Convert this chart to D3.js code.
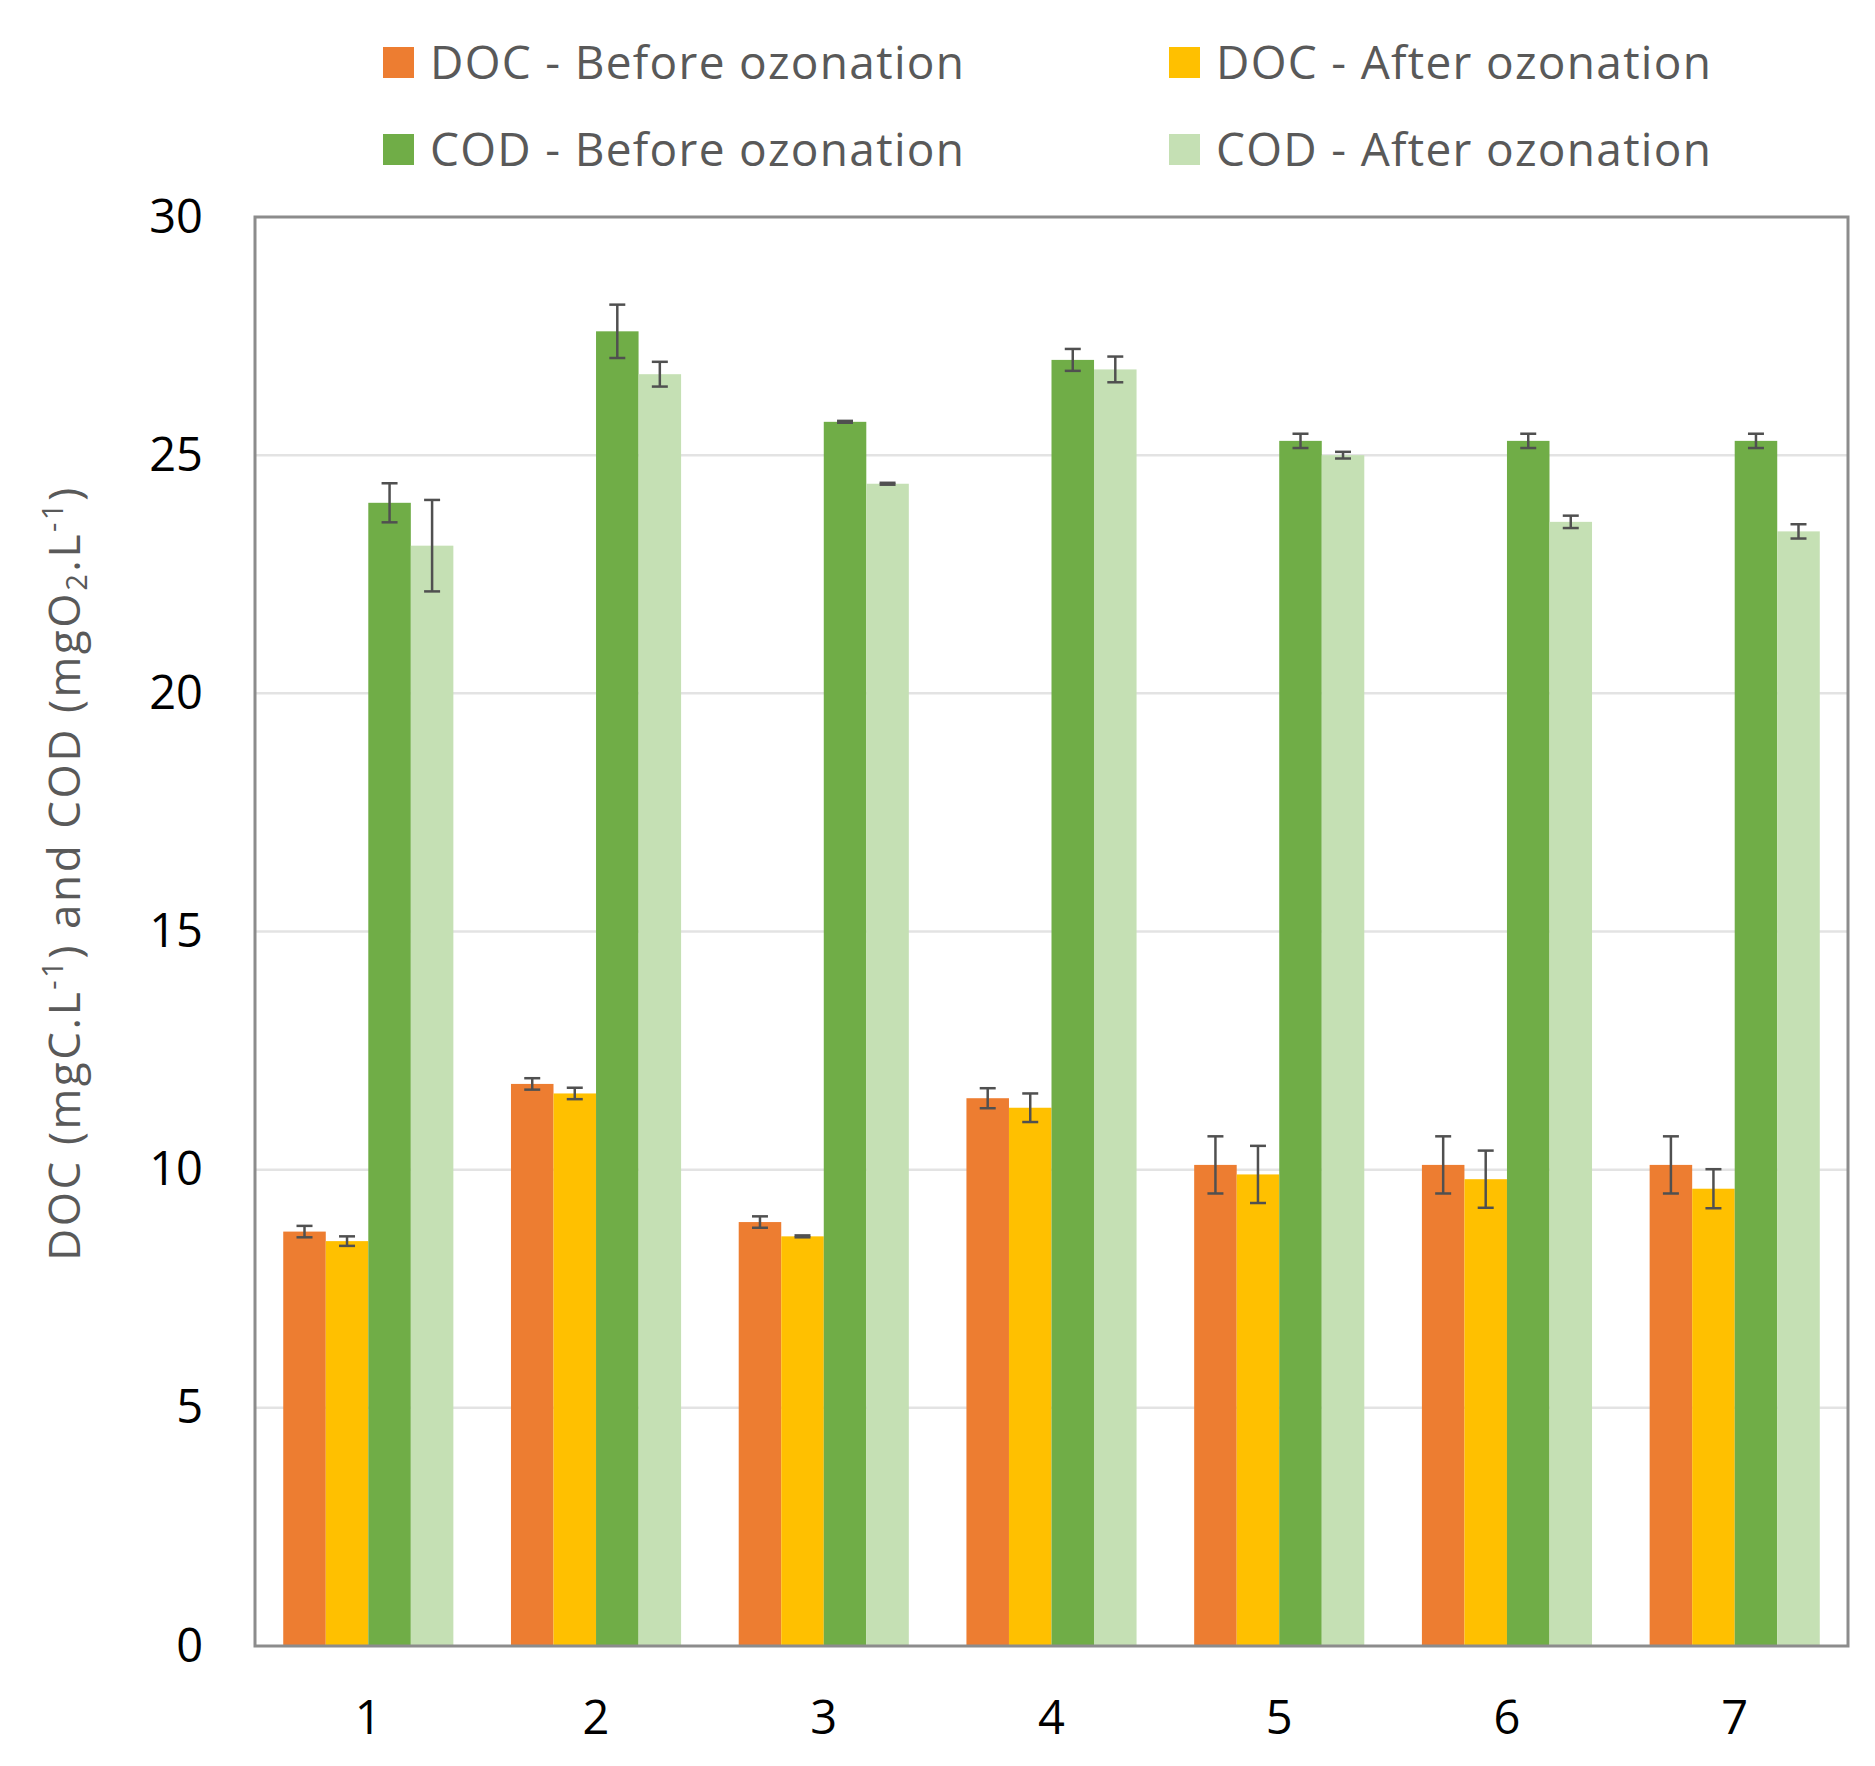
<!DOCTYPE html>
<html>
<head>
<meta charset="utf-8">
<script src="https://cdn.jsdelivr.net/npm/d3@7"></script>
<style>
  body { margin: 0; background: #fff; }
  svg { display: block; font-family: "Open Sans", sans-serif; }
</style>
</head>
<body>
<div id="chart"></div>
<script>
// values
const categories = ['1', '2', '3', '4', '5', '6', '7']
const docBefore    = [8.7, 11.8, 8.9, 11.5, 10.1, 10.1, 10.1]
const docBeforeErr = [0.12, 0.12, 0.12, 0.21, 0.6, 0.6, 0.6]
const docAfter     = [8.5, 11.6, 8.6, 11.3, 9.9, 9.8, 9.6]
const docAfterErr  = [0.1, 0.12, 0.02, 0.3, 0.6, 0.6, 0.41]
const codBefore    = [24.0, 27.6, 25.7, 27.0, 25.3, 25.3, 25.3]
const codBeforeErr = [0.41, 0.56, 0.02, 0.23, 0.15, 0.15, 0.15]
const codAfter     = [23.1, 26.7, 24.4, 26.8, 25.0, 23.6, 23.4]
const codAfterErr  = [0.96, 0.26, 0.02, 0.27, 0.07, 0.13, 0.15]
const seriesNames = ['DOC - Before ozonation', 'DOC - After ozonation', 'COD - Before ozonation', 'COD - After ozonation']
const seriesColors = ['#ED7D31', '#FFC000', '#70AD47', '#C5E0B4']
const yTicks = [0, 5, 10, 15, 20, 25, 30]

const series = [
    { name: seriesNames[0], values: docBefore, errs: docBeforeErr },
    { name: seriesNames[1], values: docAfter, errs: docAfterErr },
    { name: seriesNames[2], values: codBefore, errs: codBeforeErr },
    { name: seriesNames[3], values: codAfter, errs: codAfterErr },
]

const W = 1875, H = 1766
const margin = { top: 217, left: 255, right: 27, bottom: 120 }
const width = W - margin.left - margin.right
const height = H - margin.top - margin.bottom

const svg = d3.select('#chart').append('svg')
    .attr('width', W)
    .attr('height', H)

const g = svg.append('g').attr('transform', `translate(${margin.left},${margin.top})`)

const x0 = d3.scaleBand()
    .domain(categories)
    .range([0, width])
    .paddingInner(0.253)
    .paddingOuter(0.124)

const x1 = d3.scaleBand()
    .domain(seriesNames)
    .range([0, x0.bandwidth()])

const y = d3.scaleLinear()
    .domain([0, 30])
    .range([height, 0])

const color = d3.scaleOrdinal().domain(seriesNames).range(seriesColors)

// gridlines
g.append('g')
    .selectAll('line')
    .data(yTicks.filter(d => d > 0 && d < 30))
    .join('line')
    .attr('x1', 0).attr('x2', width)
    .attr('y1', d => y(d)).attr('y2', d => y(d))
    .attr('stroke', '#e3e3e3')
    .attr('stroke-width', 2.5)

// bars
const groups = g.append('g')
    .selectAll('g')
    .data(categories)
    .join('g')
    .attr('transform', d => `translate(${x0(d)},0)`)

groups.selectAll('rect')
    .data((c, i) => series.map(s => ({ name: s.name, v: s.values[i], e: s.errs[i] })))
    .join('rect')
    .attr('x', d => x1(d.name))
    .attr('width', x1.bandwidth())
    .attr('y', d => y(d.v))
    .attr('height', d => y(0) - y(d.v))
    .attr('fill', d => color(d.name))

// error bars
const eb = groups.selectAll('g.err')
    .data((c, i) => series.map(s => ({ name: s.name, v: s.values[i], e: s.errs[i] })))
    .join('g')
    .attr('class', 'err')
    .attr('stroke', '#505050')
    .attr('stroke-width', 2.5)

const cx = d => x1(d.name) + x1.bandwidth() / 2
const capW = 8
eb.append('line')
    .attr('x1', cx).attr('x2', cx)
    .attr('y1', d => y(d.v + d.e)).attr('y2', d => y(d.v - d.e))
eb.append('line')
    .attr('x1', d => cx(d) - capW).attr('x2', d => cx(d) + capW)
    .attr('y1', d => y(d.v + d.e)).attr('y2', d => y(d.v + d.e))
eb.append('line')
    .attr('x1', d => cx(d) - capW).attr('x2', d => cx(d) + capW)
    .attr('y1', d => y(d.v - d.e)).attr('y2', d => y(d.v - d.e))

// plot border
g.append('rect')
    .attr('width', width)
    .attr('height', height)
    .attr('fill', 'none')
    .attr('stroke', '#8c8c8c')
    .attr('stroke-width', 3)

// axes
const yAxis = g.append('g')
    .call(d3.axisLeft(y).tickValues(yTicks).tickSize(0).tickPadding(52))
yAxis.select('.domain').remove()
yAxis.selectAll('text')
    .attr('font-size', 47)
    .attr('font-family', '"Open Sans", sans-serif')
    .attr('fill', '#000')

const xAxis = g.append('g')
    .attr('transform', `translate(0,${height})`)
    .call(d3.axisBottom(x0).tickSize(0).tickPadding(55))
xAxis.select('.domain').remove()
xAxis.selectAll('text')
    .attr('font-size', 47)
    .attr('font-family', '"Open Sans", sans-serif')
    .attr('fill', '#000')

// y axis title
const title = svg.append('text')
    .attr('transform', 'translate(80,873) rotate(-90)')
    .attr('text-anchor', 'middle')
    .attr('font-size', 44)
    .attr('letter-spacing', 2.6)
    .attr('fill', '#595959')
title.append('tspan').text('DOC (mgC.L')
title.append('tspan').text('-1').attr('font-size', 29).attr('baseline-shift', '60%')
title.append('tspan').text(') and COD (mgO')
title.append('tspan').text('2').attr('font-size', 29).attr('baseline-shift', '-25%')
title.append('tspan').text('.L')
title.append('tspan').text('-1').attr('font-size', 29).attr('baseline-shift', '60%')
title.append('tspan').text(')')

// legend
const legendPos = [[383, 63], [1169, 63], [383, 150], [1169, 150]]
const legend = svg.append('g')
    .selectAll('g')
    .data(seriesNames)
    .join('g')
    .attr('transform', (d, i) => `translate(${legendPos[i][0]},${legendPos[i][1]})`)
legend.append('rect')
    .attr('x', 0).attr('y', -16)
    .attr('width', 31).attr('height', 31)
    .attr('fill', d => color(d))
legend.append('text')
    .attr('x', 47)
    .attr('dy', '0.35em')
    .attr('font-size', 46)
    .attr('letter-spacing', 1.3)
    .attr('fill', '#595959')
    .text(d => d)
</script>
</body>
</html>
